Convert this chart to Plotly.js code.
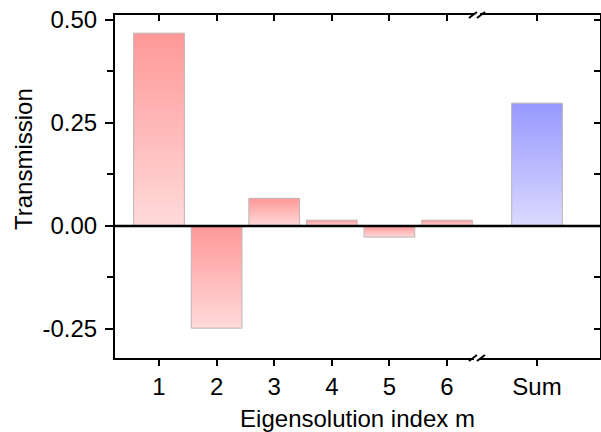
<!DOCTYPE html>
<html>
<head>
<meta charset="utf-8">
<script src="https://cdn.plot.ly/plotly-3.0.1.min.js"></script>
<style>html,body{margin:0;padding:0;background:#fff}#chart{width:601px;height:432px}</style>
</head>
<body>
<div id="chart"></div>
<script>
// ---- data ----
const categories = ['1', '2', '3', '4', '5', '6', 'Sum'];
const values = [0.468, -0.248, 0.067, 0.014, -0.027, 0.014, 0.298];
const yTickVals = [-0.25, 0, 0.25, 0.5];
const yTickText = ['-0.25', '0.00', '0.25', '0.50'];

// ---- layout constants ----
const xPos = [1, 2, 3, 4, 5, 6, 7.5625];   // Sum sits after an axis break
const breakX = 6.52;
const barW = 0.88;
const xRange = [0.236, 8.656];
const yRange = [-0.3204, 0.512];
const FONT = 'Liberation Sans, Arial, sans-serif';

const redScale = [[0, 'rgb(255,218,218)'], [1, 'rgb(255,152,152)']];
const blueScale = [[0, 'rgb(218,218,255)'], [1, 'rgb(152,152,255)']];

const traces = categories.map((c, i) => {
  const p = xPos[i], v = values[i], h = barW / 2;
  return {
    type: 'scatter', mode: 'lines',
    x: [p - h, p + h, p + h, p - h, p - h],
    y: [0, 0, v, v, 0],
    fill: 'toself',
    fillgradient: {type: 'vertical', colorscale: c === 'Sum' ? blueScale : redScale},
    line: {color: 'rgb(190,180,180)', width: 1},
    hoverinfo: 'skip', showlegend: false, name: c
  };
});
// invisible trace to carry the mirrored axes
traces.push({type: 'scatter', mode: 'markers', x: [xPos[0]], y: [0], xaxis: 'x2', yaxis: 'y2',
  marker: {opacity: 0}, hoverinfo: 'skip', showlegend: false});

const tickFont = {family: FONT, size: 24, color: '#000'};

const layout = {
  width: 601, height: 432,
  margin: {l: 115, r: 1, t: 15, b: 74},
  paper_bgcolor: '#fff', plot_bgcolor: '#fff',
  showlegend: false,
  xaxis: {
    range: xRange, showgrid: false, zeroline: false,
    showline: true, linecolor: '#000', linewidth: 2,
    tickvals: xPos, ticktext: categories,
    ticks: 'outside', ticklen: 6, tickwidth: 2, tickcolor: '#000',
    tickfont: tickFont,
    title: {text: 'Eigensolution index m', font: {family: FONT, size: 24, color: '#000'}, standoff: 12}
  },
  xaxis2: {
    overlaying: 'x', side: 'top', range: xRange, showgrid: false, zeroline: false,
    showline: true, linecolor: '#000', linewidth: 2,
    tickvals: xPos, ticktext: categories, showticklabels: false,
    ticks: 'inside', ticklen: 6, tickwidth: 2, tickcolor: '#000'
  },
  yaxis: {
    range: yRange, showgrid: false, zeroline: false,
    showline: true, linecolor: '#000', linewidth: 2,
    tickvals: yTickVals, ticktext: yTickText,
    ticks: 'outside', ticklen: 8, tickwidth: 2, tickcolor: '#000',
    minor: {dtick: 0.125, tick0: 0, ticks: 'outside', ticklen: 6, tickwidth: 2, tickcolor: '#000'},
    tickfont: tickFont, ticklabelstandoff: 3
  },
  yaxis2: {
    overlaying: 'y', side: 'right', range: yRange, showgrid: false, zeroline: false,
    showline: true, linecolor: '#000', linewidth: 2,
    tickvals: yTickVals, showticklabels: false,
    ticks: 'inside', ticklen: 6, tickwidth: 2, tickcolor: '#000',
    minor: {dtick: 0.125, tick0: 0, ticks: 'inside', ticklen: 6, tickwidth: 2, tickcolor: '#000'}
  },
  annotations: [{
    text: 'Transmission', textangle: -90, showarrow: false,
    xref: 'paper', yref: 'paper', x: 0, y: 0.58, xanchor: 'center', yanchor: 'middle',
    xshift: -92, font: {family: FONT, size: 24, color: '#000'}
  }],
  shapes: []
};

// zero line
layout.shapes.push({type: 'line', xref: 'paper', yref: 'y', x0: 0, x1: 1, y0: 0, y1: 0,
  line: {color: '#000', width: 2.5}, layer: 'above'});

// axis break marks on top and bottom axes
[0, 1].forEach(py => {
  layout.shapes.push({type: 'line', xref: 'x', yref: 'paper', xsizemode: 'pixel', ysizemode: 'pixel',
    xanchor: breakX, yanchor: py, x0: -3, x1: 3, y0: 0, y1: 0,
    line: {color: '#fff', width: 4}, layer: 'above'});
  [-4, 4].forEach(dx => {
    layout.shapes.push({type: 'line', xref: 'x', yref: 'paper', xsizemode: 'pixel', ysizemode: 'pixel',
      xanchor: breakX, yanchor: py, x0: dx - 4, x1: dx + 4, y0: -3, y1: 3,
      line: {color: '#000', width: 2}, layer: 'above'});
  });
});

Plotly.newPlot('chart', traces, layout, {staticPlot: true, displayModeBar: false});
</script>
</body>
</html>
